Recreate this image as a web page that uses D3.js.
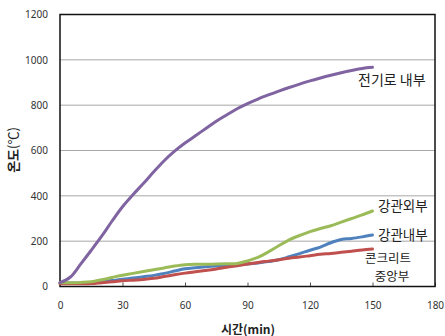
<!DOCTYPE html>
<html>
<head>
<meta charset="utf-8">
<script src="https://cdn.jsdelivr.net/npm/d3@7"></script>
<style>
  html, body { margin: 0; padding: 0; background: #fff; }
  svg { display: block; }
</style>
</head>
<body>
<svg id="chart" width="445" height="336"></svg>
<script>
// Time axis (min), sampled every 5 minutes
const times = [0,5,10,15,20,25,30,35,40,45,50,55,60,65,70,75,80,85,90,95,100,105,110,115,120,125,130,135,140,145,150];

// Temperatures (°C) per measuring point
const furnace  = [17,42,100,160,222,289,352,405,454,506,555,597,633,665,697,729,757,784,807,827,845,862,878,893,907,920,932,943,953,962,967];
const pipeOut  = [17,17,18,21,30,40,50,58,66,74,82,90,96,98,98,99,100,101,113,128,153,180,206,225,242,256,268,284,300,316,333];
const pipeIn   = [15,15,15,17,21,26,32,37,43,49,58,68,78,83,87,90,92,95,99,104,110,118,131,145,160,174,193,207,212,219,227];
const concrete = [12,12,12,13,17,21,25,28,31,36,44,52,59,65,71,77,85,92,99,106,112,118,125,130,136,142,146,151,156,161,165];

const xTicks = [0,30,60,90,120,150,180];
const yTicks = [0,200,400,600,800,1000,1200];

const seriesNames = ["전기로 내부", "강관외부", "강관내부", "콘크리트 중앙부"];

const svg = d3.select("#chart");
const x = d3.scaleLinear().domain([0,180]).range([60,435]);
const y = d3.scaleLinear().domain([0,1200]).range([286.5,14.5]);

// horizontal gridlines
svg.append("g").selectAll("line")
  .data(yTicks.filter(v => v > 0 && v < 1200))
  .join("line")
  .attr("x1", x(0)).attr("x2", x(180))
  .attr("y1", d => y(d)).attr("y2", d => y(d))
  .attr("stroke", "#a8a8a8").attr("stroke-width", 1);

// y axis labels
const yAxis = svg.append("g")
  .attr("transform", `translate(${x(0)},0)`)
  .call(d3.axisLeft(y).tickValues(yTicks).tickFormat(d3.format("d")).tickSize(0).tickPadding(12));
yAxis.select(".domain").remove();
yAxis.selectAll("text")
  .attr("font-family", "'Noto Sans', sans-serif")
  .attr("font-size", 10).attr("fill", "#333");

// x axis with inward ticks
const xAxis = svg.append("g")
  .attr("transform", `translate(0,${y(0)})`)
  .call(d3.axisBottom(x).tickValues(xTicks).tickFormat(d3.format("d")).tickSize(-4).tickPadding(15));
xAxis.select(".domain").remove();
xAxis.selectAll("line").attr("stroke", "#555");
xAxis.selectAll("text")
  .attr("font-family", "'Noto Sans', sans-serif")
  .attr("font-size", 10).attr("fill", "#333");

// plot frame
svg.append("rect")
  .attr("x", x(0)).attr("y", y(1200))
  .attr("width", x(180) - x(0)).attr("height", y(0) - y(1200))
  .attr("fill", "none").attr("stroke", "#111").attr("stroke-width", 1.5);

const line = d3.line()
  .x((d, i) => x(times[i]))
  .y(d => y(d))
  .curve(d3.curveCatmullRom.alpha(0.5));

const series = [
  { values: pipeIn,   color: "#4F81BD" },
  { values: concrete, color: "#C0504D" },
  { values: pipeOut,  color: "#9BBB59" },
  { values: furnace,  color: "#8064A2" }
];

svg.append("g").selectAll("path")
  .data(series)
  .join("path")
  .attr("d", d => line(d.values))
  .attr("fill", "none")
  .attr("stroke", d => d.color)
  .attr("stroke-width", 3)
  .attr("stroke-linejoin", "round")
  .attr("stroke-linecap", "round");

// series labels
const labelFont = "'Noto Sans CJK KR', 'Noto Sans', sans-serif";
const labels = [
  { text: seriesNames[0], x: 358, y: 80, anchor: "start", size: 14 },
  { text: seriesNames[1], x: 378, y: 206, anchor: "start", size: 13.5 },
  { text: seriesNames[2], x: 378, y: 235, anchor: "start", size: 13.5 },
  { text: "콘크리트", x: 388, y: 258.5, anchor: "middle", size: 12.5 },
  { text: "중앙부", x: 392, y: 277, anchor: "middle", size: 12.5 }
];
svg.append("g").selectAll("text")
  .data(labels)
  .join("text")
  .attr("x", d => d.x).attr("y", d => d.y)
  .attr("dy", "0.35em")
  .attr("text-anchor", d => d.anchor)
  .attr("font-family", labelFont)
  .attr("font-size", d => d.size)
  .attr("fill", "#222")
  .text(d => d.text);

// axis titles
const yTitle = svg.append("text")
  .attr("transform", "translate(13,150) rotate(-90)")
  .attr("text-anchor", "middle").attr("dy", "0.35em")
  .attr("font-family", labelFont).attr("font-size", 13).attr("fill", "#222");
yTitle.append("tspan").attr("font-weight", "bold").text("온도");
yTitle.append("tspan").text("(℃)");

svg.append("text")
  .attr("x", 248).attr("y", 330).attr("dy", "0.35em")
  .attr("text-anchor", "middle")
  .attr("font-family", labelFont).attr("font-size", 12).attr("font-weight", "bold")
  .attr("fill", "#222")
  .text("시간(min)");
</script>
</body>
</html>
